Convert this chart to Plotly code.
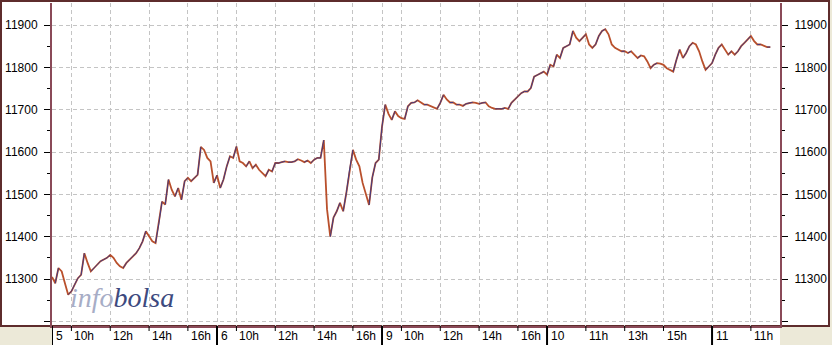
import plotly.graph_objects as go

# ---------------- data (10-minute closes, 9:00 .. 17:20 each session) -------------
day_labels = ["5", "6", "9", "10", "11"]

day5 = [11305, 11290, 11326, 11318, 11290, 11263,
        11271, 11287, 11302, 11310, 11361, 11338,
        11318, 11326, 11334, 11342, 11346, 11350,
        11357, 11350, 11338, 11330, 11326, 11338,
        11346, 11354, 11361, 11373, 11389, 11413,
        11401, 11389, 11385, 11430, 11483, 11476,
        11535, 11511, 11495, 11515, 11487, 11531,
        11539, 11531, 11539, 11546, 11612, 11605,
        11586, 11578, 11527]

day6 = [11545, 11515, 11535, 11566, 11590, 11586,
        11613, 11578, 11574, 11566, 11578, 11562,
        11570, 11558, 11550, 11543, 11558, 11554,
        11574, 11574, 11576, 11578, 11576, 11576,
        11578, 11583, 11580, 11576, 11580, 11574,
        11582, 11586, 11586, 11628, 11465, 11400,
        11445, 11460, 11480, 11460, 11505, 11560,
        11605, 11582, 11566, 11527, 11500, 11475,
        11540, 11574, 11582]

day9 = [11660, 11712, 11690, 11676, 11696, 11685,
        11680, 11678, 11708, 11716, 11717, 11722,
        11717, 11712, 11712, 11708, 11704, 11702,
        11716, 11735, 11724, 11717, 11717, 11712,
        11712, 11709, 11714, 11716, 11717, 11716,
        11714, 11716, 11717, 11708, 11704, 11702,
        11702, 11702, 11704, 11702, 11716, 11724,
        11731, 11739, 11743, 11743, 11751, 11778,
        11782, 11786, 11790]

day10 = [11783, 11806, 11802, 11830, 11822, 11846,
         11850, 11854, 11886, 11870, 11862, 11870,
         11878, 11854, 11846, 11854, 11874, 11886,
         11890, 11878, 11854, 11846, 11842, 11838,
         11838, 11834, 11838, 11830, 11822, 11828,
         11826, 11814, 11798, 11806, 11810, 11809,
         11806, 11798, 11794, 11790, 11818, 11842,
         11822, 11834, 11850, 11858, 11854, 11838,
         11814, 11794, 11802]

day11 = [11810, 11830, 11846, 11854, 11842, 11830,
         11838, 11830, 11838, 11850, 11858, 11866,
         11874, 11862, 11854, 11854, 11850, 11848, 11848]

sessions = [day5, day6, day9, day10, day11]

SESSION_MIN = 510          # 9:00 .. 17:30
STEP_MIN = 10

hour_tick_days = [0, 0, 0, 0, 1, 1, 1, 1, 2, 2, 2, 2, 3, 3, 3, 4]
hour_tick_hours = [10, 12, 14, 16, 10, 12, 14, 16, 10, 12, 14, 16, 11, 13, 15, 11]

y_ticks = [11200, 11300, 11400, 11500, 11600, 11700, 11800, 11900]
y_ticktext = ["", "11300", "11400", "11500", "11600", "11700", "11800", "11900"]
y_minor = [11250, 11350, 11450, 11550, 11650, 11750, 11850]

# ---------------- derived positions -------------------------------------------------
xs, ys = [], []
for d, vals in enumerate(sessions):
    for i, v in enumerate(vals):
        xs.append(d * SESSION_MIN + i * STEP_MIN)
        ys.append(v)

up_x, up_y = [], []
for i in range(1, len(xs)):
    if ys[i] >= ys[i - 1]:
        up_x += [xs[i - 1], xs[i], None]
        up_y += [ys[i - 1], ys[i], None]

day_pos = [d * SESSION_MIN for d in range(len(day_labels))]
hour_pos = [d * SESSION_MIN + (h - 9) * 60 for d, h in zip(hour_tick_days, hour_tick_hours)]
hour_txt = [f"{h}h" for h in hour_tick_hours]

# ---------------- geometry -------------------------------------------------------
W, H = 832, 345
ML, MR, MT, MB = 52, 52, 3, 19
PW = W - ML - MR
PH = H - MT - MB
XR = [0, 2250]
YR = [11189, 11952]

def px_x(p):
    return (p - ML) / PW

def px_y(p):
    return (H - MB - p) / PH

AXIS_COL = "#8a4a58"
FRAME_COL = "#5e2c2c"
FONT = "Liberation Sans"

fig = go.Figure()
fig.add_trace(go.Scatter(x=xs, y=ys, mode="lines",
                         line=dict(color="#b9502c", width=1.8),
                         hoverinfo="skip", showlegend=False))
fig.add_trace(go.Scatter(x=up_x, y=up_y, mode="lines",
                         line=dict(color="#34388a", width=0.9),
                         hoverinfo="skip", showlegend=False, yaxis="y2"))

shapes = []
# outer white frame
shapes.append(dict(type="rect", xref="paper", yref="paper",
                   x0=px_x(1), x1=px_x(829), y0=px_y(326), y1=px_y(1),
                   fillcolor="white", line=dict(color=FRAME_COL, width=2), layer="below"))
# white band under the plot for time labels
shapes.append(dict(type="rect", xref="paper", yref="paper",
                   x0=0, x1=1, y0=px_y(H), y1=0,
                   fillcolor="white", line=dict(width=0), layer="below"))
# day boundary markers
for p in day_pos:
    shapes.append(dict(type="line", xref="x", yref="paper", x0=p, x1=p,
                       y0=0, y1=px_y(H), line=dict(color="black", width=2)))
# hour tick marks
for p in hour_pos:
    shapes.append(dict(type="line", xref="x", yref="paper", x0=p, x1=p,
                       y0=0, y1=px_y(331), line=dict(color="black", width=1)))

annotations = []
for p, t in zip(day_pos, day_labels):
    annotations.append(dict(x=p, xref="x", y=0, yref="paper", text=t, showarrow=False,
                            xanchor="left", yanchor="top", xshift=2, yshift=-1,
                            font=dict(family=FONT, size=12, color="black")))
for p, t in zip(hour_pos, hour_txt):
    annotations.append(dict(x=p, xref="x", y=0, yref="paper", text=t, showarrow=False,
                            xanchor="left", yanchor="top", xshift=1, yshift=-1,
                            font=dict(family=FONT, size=12, color="black")))
annotations.append(dict(x=px_x(68), xref="paper", y=px_y(315), yref="paper",
                        xanchor="left", yanchor="bottom", showarrow=False,
                        text="<i><span style='color:#a7adc6'>info</span>"
                             "<span style='color:#3d4a7e'>bolsa</span></i>",
                        font=dict(family="Liberation Serif", size=28)))

yaxis_common = dict(range=YR, tickmode="array", tickvals=y_ticks, ticktext=y_ticktext,
                    ticks="outside", ticklen=6, tickcolor="black", tickwidth=1,
                    minor=dict(tickmode="array", tickvals=y_minor, ticks="outside",
                               ticklen=3, tickcolor="black", showgrid=False),
                    showline=True, linecolor=AXIS_COL, linewidth=2,
                    zeroline=False, fixedrange=True,
                    tickfont=dict(family=FONT, size=12, color="black"))

fig.update_layout(
    width=W, height=H,
    margin=dict(l=ML, r=MR, t=MT, b=MB, pad=0),
    paper_bgcolor="#ece9d8",
    plot_bgcolor="rgba(0,0,0,0)",
    showlegend=False,
    xaxis=dict(range=XR, tickmode="array", tickvals=day_pos + hour_pos,
               showticklabels=False, ticks="", showgrid=True,
               gridcolor="#c4c4c4", griddash="4px,3px", gridwidth=1,
               showline=True, linecolor=AXIS_COL, linewidth=2, zeroline=False,
               fixedrange=True),
    yaxis=dict(**yaxis_common, side="left", showgrid=True,
               gridcolor="#c4c4c4", griddash="4px,3px", gridwidth=1,
               ticklabelstandoff=4),
    yaxis2=dict(**yaxis_common, side="right", overlaying="y", anchor="x",
                showgrid=False, ticklabelstandoff=4),
    shapes=shapes,
    annotations=annotations,
)

fig.write_html("out.html")
